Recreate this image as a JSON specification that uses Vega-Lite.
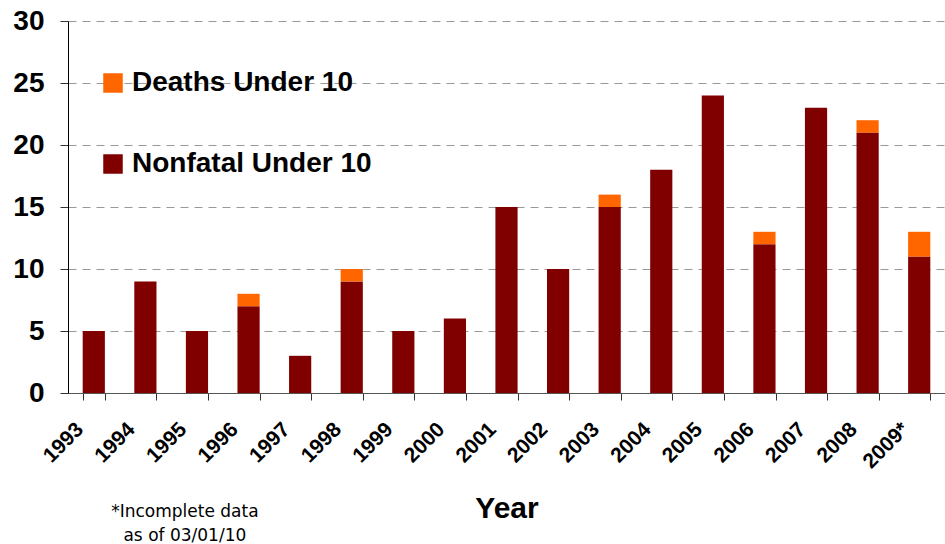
{
  "$schema": "https://vega.github.io/schema/vega-lite/v6.json",
  "width": 877,
  "height": 372,
  "autosize": {"type": "none"},
  "padding": {"left": 68, "top": 21, "right": 0, "bottom": 151},
  "background": "white",
  "config": {
    "view": {"stroke": null},
    "font": "Liberation Sans"
  },
  "title": {
    "text": ["*Incomplete data", "as of 03/01/10"],
    "orient": "bottom",
    "anchor": "start",
    "align": "center",
    "dx": 172,
    "offset": -20,
    "font": "DejaVu Sans",
    "fontSize": 17,
    "fontWeight": "normal",
    "color": "#000000",
    "lineHeight": 24
  },
  "data": {
    "values": [
      {"year": "1993", "type": "Nonfatal Under 10", "count": 5},
      {"year": "1994", "type": "Nonfatal Under 10", "count": 9},
      {"year": "1995", "type": "Nonfatal Under 10", "count": 5},
      {"year": "1996", "type": "Nonfatal Under 10", "count": 7},
      {"year": "1996", "type": "Deaths Under 10", "count": 1},
      {"year": "1997", "type": "Nonfatal Under 10", "count": 3},
      {"year": "1998", "type": "Nonfatal Under 10", "count": 9},
      {"year": "1998", "type": "Deaths Under 10", "count": 1},
      {"year": "1999", "type": "Nonfatal Under 10", "count": 5},
      {"year": "2000", "type": "Nonfatal Under 10", "count": 6},
      {"year": "2001", "type": "Nonfatal Under 10", "count": 15},
      {"year": "2002", "type": "Nonfatal Under 10", "count": 10},
      {"year": "2003", "type": "Nonfatal Under 10", "count": 15},
      {"year": "2003", "type": "Deaths Under 10", "count": 1},
      {"year": "2004", "type": "Nonfatal Under 10", "count": 18},
      {"year": "2005", "type": "Nonfatal Under 10", "count": 24},
      {"year": "2006", "type": "Nonfatal Under 10", "count": 12},
      {"year": "2006", "type": "Deaths Under 10", "count": 1},
      {"year": "2007", "type": "Nonfatal Under 10", "count": 23},
      {"year": "2008", "type": "Nonfatal Under 10", "count": 21},
      {"year": "2008", "type": "Deaths Under 10", "count": 1},
      {"year": "2009*", "type": "Nonfatal Under 10", "count": 11},
      {"year": "2009*", "type": "Deaths Under 10", "count": 2}
    ]
  },
  "mark": {"type": "bar"},
  "encoding": {
    "x": {
      "field": "year",
      "type": "nominal",
      "sort": null,
      "scale": {"paddingInner": 0.57, "paddingOuter": 0.285},
      "axis": {
        "title": "Year",
        "titleFont": "Liberation Sans",
        "titleFontSize": 30,
        "titleFontWeight": "bold",
        "titleColor": "#000000",
        "titlePadding": 22,
        "labelAngle": -45,
        "labelAlign": "right",
        "labelBaseline": "middle",
        "labelFontSize": 21,
        "labelFontWeight": "bold",
        "labelColor": "#000000",
        "labelPadding": 26,
        "labelOffset": -14,
        "tickBand": "extent",
        "tickSize": 7,
        "tickColor": "#333333",
        "domainColor": "#555555",
        "grid": false
      }
    },
    "y": {
      "field": "count",
      "type": "quantitative",
      "aggregate": "sum",
      "stack": "zero",
      "scale": {"domain": [0, 30], "nice": false},
      "axis": {
        "title": null,
        "values": [0, 5, 10, 15, 20, 25, 30],
        "labelFontSize": 28,
        "labelFontWeight": "bold",
        "labelColor": "#000000",
        "labelPadding": 16,
        "tickSize": 8,
        "tickColor": "#333333",
        "domainColor": "#000000",
        "grid": true,
        "gridColor": "#999999",
        "gridDash": [8, 6],
        "gridWidth": 1
      }
    },
    "color": {
      "field": "type",
      "type": "nominal",
      "scale": {
        "domain": ["Deaths Under 10", "Nonfatal Under 10"],
        "range": ["#FF6600", "#800000"]
      },
      "legend": {
        "title": null,
        "orient": "none",
        "legendX": 31,
        "legendY": 48,
        "padding": 0,
        "symbolType": "square",
        "symbolSize": 380,
        "symbolStrokeWidth": 0,
        "labelFontSize": 28,
        "labelFontWeight": "bold",
        "labelColor": "#000000",
        "labelOffset": 5,
        "labelLimit": 0,
        "rowPadding": 53
      }
    },
    "order": {"field": "type", "sort": "descending"}
  }
}
